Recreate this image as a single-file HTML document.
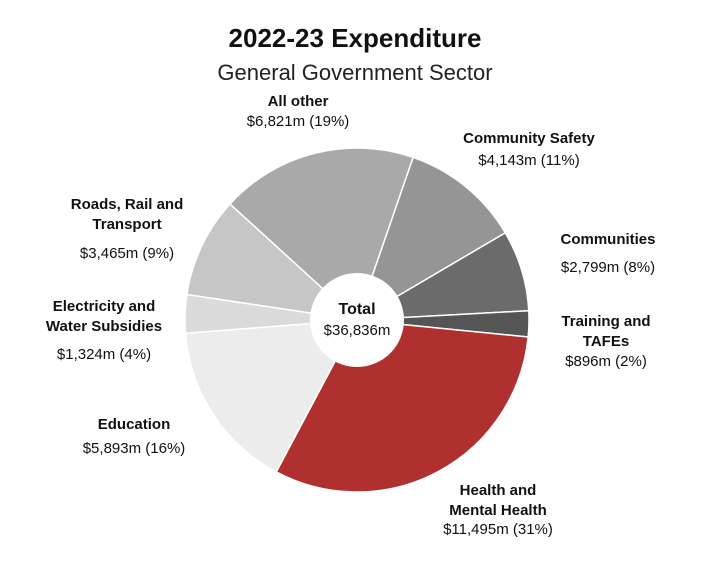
<!DOCTYPE html>
<html><head><meta charset="utf-8"><style>
body{margin:0;background:#fff;width:710px;height:580px;overflow:hidden;font-family:"Liberation Sans",Arial,sans-serif}
</style></head><body>
<svg id="c" width="710" height="580">
<text x="355" y="47" text-anchor="middle" font-size="26" font-weight="bold" fill="#111">2022-23 Expenditure</text>
<text x="355" y="80" text-anchor="middle" font-size="22" fill="#222">General Government Sector</text>
<g id="slices"></g>
<circle cx="357" cy="320" r="47" fill="#fff"/>
<text x="357" y="314" text-anchor="middle" font-size="16" font-weight="bold" fill="#111">Total</text>
<text x="357" y="335" text-anchor="middle" font-size="15" fill="#111">$36,836m</text>
<g id="labels" font-size="15" fill="#111"></g>
</svg>
<script>
const categories=["All other","Community Safety","Communities","Training and TAFEs","Health and Mental Health","Education","Electricity and Water Subsidies","Roads, Rail and Transport"];
const values=[6821,4143,2799,896,11495,5893,1324,3465];
const percents=[19,11,8,2,31,16,4,9];
const colors=["#a9a9a9","#959595","#6b6b6b","#555555","#b03030","#ececec","#dadada","#c6c6c6"];
const labelLines=[["All other"],["Community Safety"],["Communities"],["Training and","TAFEs"],["Health and","Mental Health"],["Education"],["Electricity and","Water Subsidies"],["Roads, Rail and","Transport"]];
const labelPos=[[298,106,126],[529,143,165],[608,244,272],[606,326,366],[498,495,534],[134,429,453],[104,311,359],[127,209,258]];
const NS="http://www.w3.org/2000/svg";
const cx=357,cy=320,R=172,start=-47.6;
const total=values.reduce((a,b)=>a+b,0);
function pt(a,r){const t=(a-90)*Math.PI/180;return [cx+r*Math.cos(t),cy+r*Math.sin(t)];}
let a=start;
const g=document.getElementById('slices');
values.forEach((v,i)=>{
  const sweep=v/total*360;const [x1,y1]=pt(a,R),[x2,y2]=pt(a+sweep,R);
  const p=document.createElementNS(NS,'path');
  p.setAttribute('d',`M${cx},${cy}L${x1},${y1}A${R},${R} 0 ${sweep>180?1:0} 1 ${x2},${y2}Z`);
  p.setAttribute('fill',colors[i]);p.setAttribute('stroke','#fff');p.setAttribute('stroke-width','1.5');
  
  
  g.appendChild(p);a+=sweep;
});
const lg=document.getElementById('labels');
labelLines.forEach((ls,i)=>{
  const [x,y,vy]=labelPos[i];
  ls.forEach((l,j)=>{
    const t=document.createElementNS(NS,'text');
    t.setAttribute('x',x);t.setAttribute('y',y+j*20);t.setAttribute('text-anchor','middle');t.setAttribute('font-weight','bold');
    t.textContent=l;
    
    
    lg.appendChild(t);
  });
  const t=document.createElementNS(NS,'text');
  t.setAttribute('x',x);t.setAttribute('y',vy);t.setAttribute('text-anchor','middle');
  t.textContent='$'+values[i].toLocaleString('en-US')+'m ('+percents[i]+'%)';
  
  
  lg.appendChild(t);
});
</script>
</body></html>
